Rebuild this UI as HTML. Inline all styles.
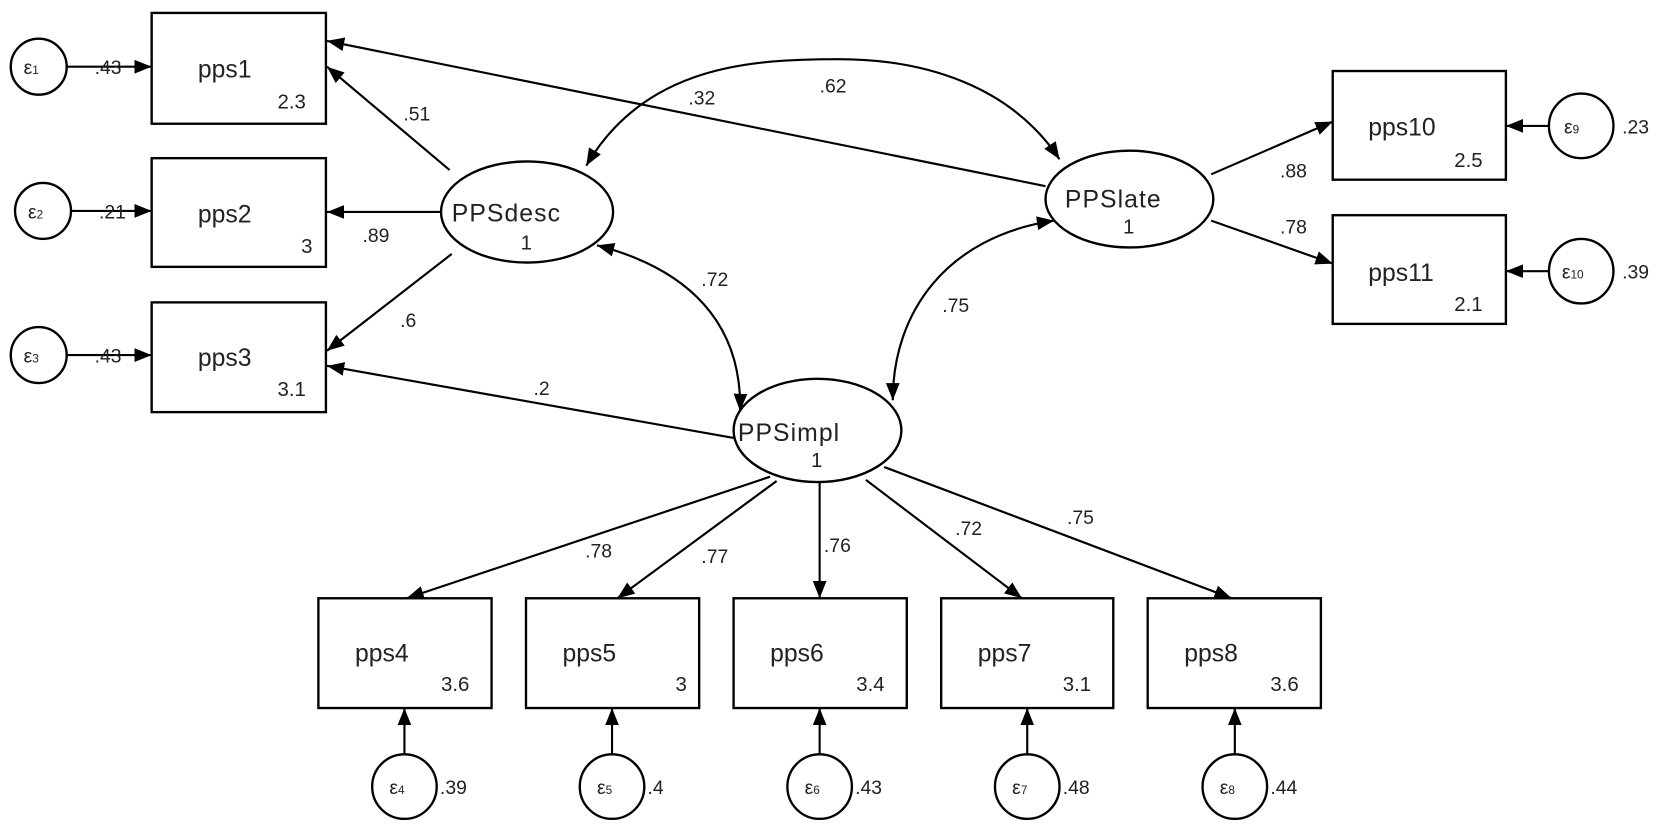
<!DOCTYPE html>
<html><head><meta charset="utf-8"><style>
html,body{margin:0;padding:0;background:#fff;width:1678px;height:835px;overflow:hidden}
svg{display:block}
text{font-family:"Liberation Sans",sans-serif;fill:#222}
.n{font-size:23px}
.s{font-size:19px}
.v{font-size:18px}
.e{font-size:18px}
</style></head><body>
<svg width="1678" height="835" viewBox="0 0 1560 776" preserveAspectRatio="none" xmlns="http://www.w3.org/2000/svg">
<defs>
<marker id="a" viewBox="0 0 10 10" refX="10" refY="5" markerWidth="9" markerHeight="9" markerUnits="userSpaceOnUse" orient="auto"><path d="M0,0 L10,5 L0,10 z" fill="#000"/></marker>
<marker id="b" viewBox="0 0 10 10" refX="10" refY="5" markerWidth="16" markerHeight="16" markerUnits="userSpaceOnUse" orient="auto"><path d="M0,1 L10,5 L0,9 z" fill="#000"/></marker>
<marker id="bs" viewBox="0 0 10 10" refX="0" refY="5" markerWidth="16" markerHeight="16" markerUnits="userSpaceOnUse" orient="auto"><path d="M10,1 L0,5 L10,9 z" fill="#000"/></marker>
</defs>
<g fill="none" stroke="#000" stroke-width="2.2">
<!-- boxes -->
<rect x="141" y="12" width="162" height="103"/>
<rect x="141" y="147" width="162" height="101"/>
<rect x="141" y="281" width="162" height="102"/>
<rect x="1239" y="66" width="161" height="101"/>
<rect x="1239" y="200" width="161" height="101"/>
<rect x="296" y="556" width="161" height="102"/>
<rect x="489" y="556" width="161" height="102"/>
<rect x="682" y="556" width="161" height="102"/>
<rect x="875" y="556" width="160" height="102"/>
<rect x="1067" y="556" width="161" height="102"/>
<!-- ellipses -->
<ellipse cx="490" cy="197" rx="80" ry="47"/>
<ellipse cx="1050" cy="185" rx="78" ry="45"/>
<ellipse cx="760" cy="400" rx="78" ry="48"/>
<!-- error circles -->
<circle cx="36" cy="62" r="26"/>
<circle cx="40" cy="196" r="26"/>
<circle cx="36" cy="330" r="26"/>
<circle cx="1470" cy="117" r="30"/>
<circle cx="1470" cy="252" r="30"/>
<circle cx="376" cy="731" r="30"/>
<circle cx="569" cy="731" r="30"/>
<circle cx="762" cy="731" r="30"/>
<circle cx="955" cy="731" r="30"/>
<circle cx="1148" cy="731" r="30"/>
</g>
<g stroke="#000" stroke-width="2" fill="none">
<!-- error arrows -->
<line x1="62" y1="62" x2="141" y2="62" marker-end="url(#b)"/>
<line x1="66" y1="196" x2="141" y2="196" marker-end="url(#b)"/>
<line x1="62" y1="330" x2="141" y2="330" marker-end="url(#b)"/>
<line x1="1440" y1="117" x2="1400" y2="117" marker-end="url(#b)"/>
<line x1="1440" y1="252" x2="1400" y2="252" marker-end="url(#b)"/>
<line x1="376" y1="701" x2="376" y2="658" marker-end="url(#b)"/>
<line x1="569" y1="701" x2="569" y2="658" marker-end="url(#b)"/>
<line x1="762" y1="701" x2="762" y2="658" marker-end="url(#b)"/>
<line x1="955" y1="701" x2="955" y2="658" marker-end="url(#b)"/>
<line x1="1148" y1="701" x2="1148" y2="658" marker-end="url(#b)"/>
<!-- loadings -->
<line x1="972" y1="173" x2="304" y2="38" marker-end="url(#b)"/>
<line x1="418" y1="158" x2="304" y2="62" marker-end="url(#b)"/>
<line x1="410" y1="197" x2="304" y2="197" marker-end="url(#b)"/>
<line x1="420" y1="236" x2="304" y2="326" marker-end="url(#b)"/>
<line x1="682" y1="407" x2="304" y2="340" marker-end="url(#b)"/>
<line x1="1126" y1="162" x2="1239" y2="113" marker-end="url(#b)"/>
<line x1="1126" y1="205" x2="1239" y2="245" marker-end="url(#b)"/>
<line x1="716" y1="443" x2="378" y2="556" marker-end="url(#b)"/>
<line x1="722" y1="447" x2="574" y2="556" marker-end="url(#b)"/>
<line x1="762" y1="448" x2="762" y2="556" marker-end="url(#b)"/>
<line x1="805" y1="446" x2="950" y2="556" marker-end="url(#b)"/>
<line x1="822" y1="434" x2="1145" y2="556" marker-end="url(#b)"/>
<!-- covariances -->
<path d="M545,154 C600,60 700,55 780,55 C860,55 940,80 985,148" marker-start="url(#bs)" marker-end="url(#b)"/>
<path d="M555,228 C640,250 690,300 688,382" marker-start="url(#bs)" marker-end="url(#b)"/>
<path d="M980,205 C880,220 830,290 830,372" marker-start="url(#bs)" marker-end="url(#b)"/>
</g>
<!-- labels -->
<g>
<text class="n" x="184" y="72">pps1</text><text class="s" x="258" y="101">2.3</text>
<text class="n" x="184" y="207">pps2</text><text class="s" x="280" y="235">3</text>
<text class="n" x="184" y="340">pps3</text><text class="s" x="258" y="368">3.1</text>
<text class="n" x="1272" y="126">pps10</text><text class="s" x="1352" y="155">2.5</text>
<text class="n" x="1272" y="261">pps11</text><text class="s" x="1352" y="289">2.1</text>
<text class="n" x="330" y="615">pps4</text><text class="s" x="410" y="642">3.6</text>
<text class="n" x="523" y="615">pps5</text><text class="s" x="628" y="642">3</text>
<text class="n" x="716" y="615">pps6</text><text class="s" x="796" y="642">3.4</text>
<text class="n" x="909" y="615">pps7</text><text class="s" x="988" y="642">3.1</text>
<text class="n" x="1101" y="615">pps8</text><text class="s" x="1181" y="642">3.6</text>
<text class="n" x="420" y="206" letter-spacing="1">PPSdesc</text><text class="s" x="484" y="232">1</text>
<text class="n" x="990" y="193" letter-spacing="1">PPSlate</text><text class="s" x="1044" y="217">1</text>
<text class="n" x="686" y="410" letter-spacing="1">PPSimpl</text><text class="s" x="754" y="434">1</text>
<text class="e" x="22" y="69">ε<tspan font-size="11">1</tspan></text>
<text class="e" x="26" y="203">ε<tspan font-size="11">2</tspan></text>
<text class="e" x="22" y="337">ε<tspan font-size="11">3</tspan></text>
<text class="e" x="1454" y="124">ε<tspan font-size="11">9</tspan></text>
<text class="e" x="1452" y="259">ε<tspan font-size="11">10</tspan></text>
<text class="e" x="362" y="738">ε<tspan font-size="11">4</tspan></text>
<text class="e" x="555" y="738">ε<tspan font-size="11">5</tspan></text>
<text class="e" x="748" y="738">ε<tspan font-size="11">6</tspan></text>
<text class="e" x="941" y="738">ε<tspan font-size="11">7</tspan></text>
<text class="e" x="1134" y="738">ε<tspan font-size="11">8</tspan></text>
<text class="v" x="88" y="69">.43</text>
<text class="v" x="92" y="203">.21</text>
<text class="v" x="88" y="337">.43</text>
<text class="v" x="1508" y="124">.23</text>
<text class="v" x="1508" y="259">.39</text>
<text class="v" x="409" y="738">.39</text>
<text class="v" x="602" y="738">.4</text>
<text class="v" x="795" y="738">.43</text>
<text class="v" x="988" y="738">.48</text>
<text class="v" x="1181" y="738">.44</text>
<text class="v" x="375" y="112">.51</text>
<text class="v" x="337" y="225">.89</text>
<text class="v" x="372" y="304">.6</text>
<text class="v" x="496" y="367">.2</text>
<text class="v" x="640" y="97">.32</text>
<text class="v" x="762" y="86">.62</text>
<text class="v" x="652" y="266">.72</text>
<text class="v" x="876" y="290">.75</text>
<text class="v" x="1190" y="165">.88</text>
<text class="v" x="1190" y="217">.78</text>
<text class="v" x="544" y="518">.78</text>
<text class="v" x="652" y="523">.77</text>
<text class="v" x="766" y="513">.76</text>
<text class="v" x="888" y="497">.72</text>
<text class="v" x="992" y="487">.75</text>
</g>
</svg>
</body></html>
